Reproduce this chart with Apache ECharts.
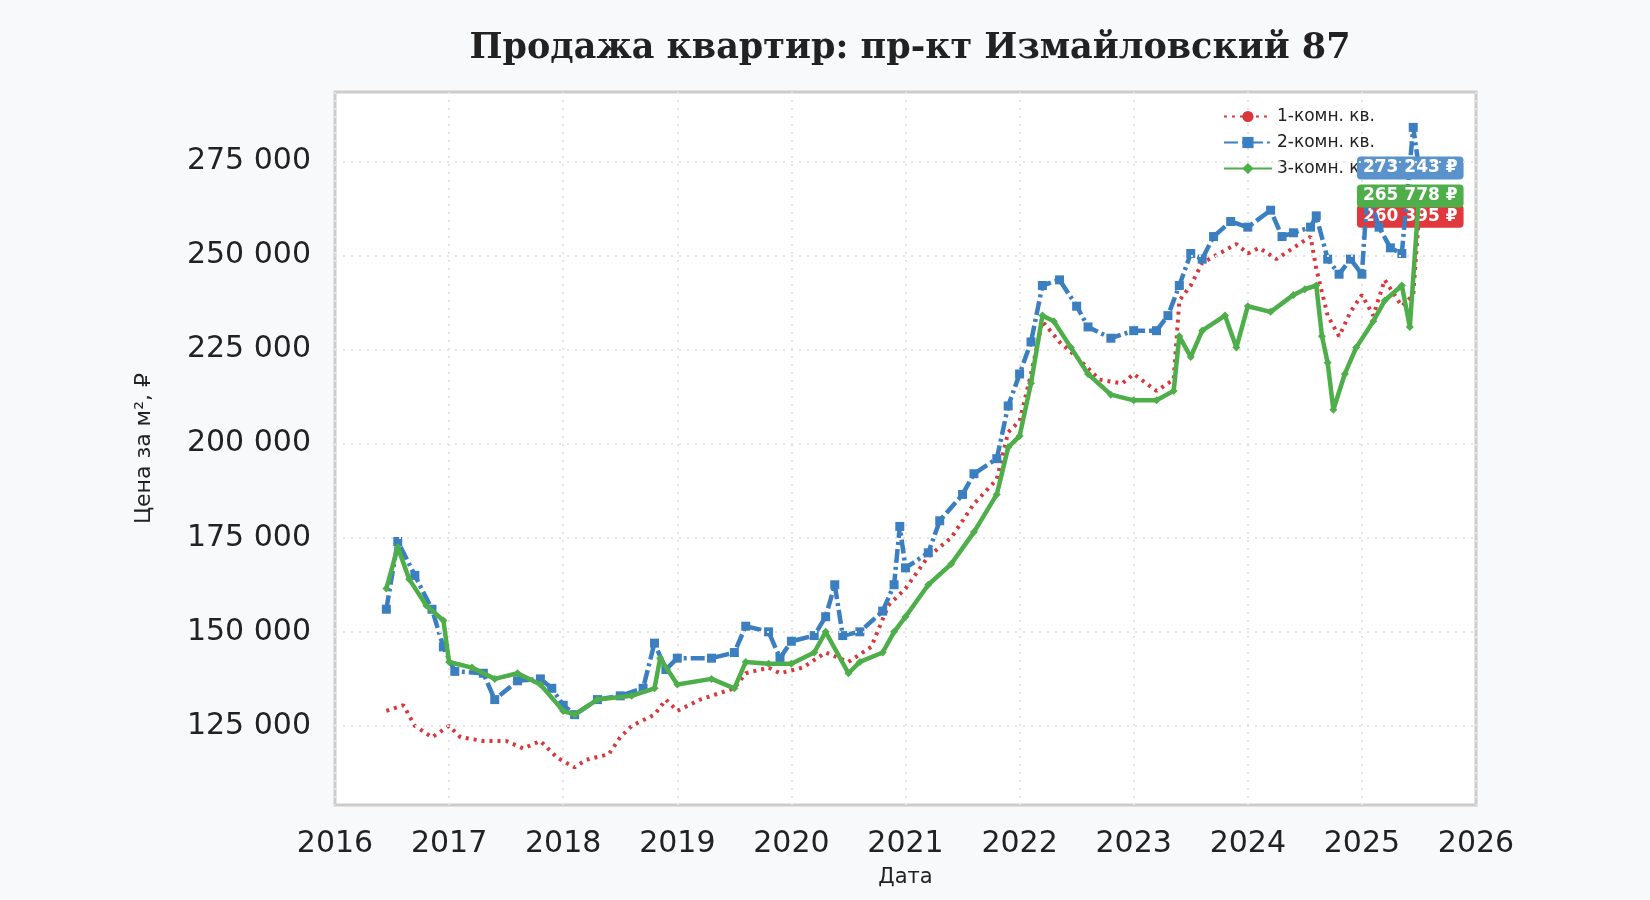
<!DOCTYPE html>
<html>
<head>
<meta charset="utf-8">
<script src="https://cdn.jsdelivr.net/npm/echarts@6/dist/echarts.min.js"></script>
<style>
html, body { margin: 0; padding: 0; background: #f8f9fb; }
#myChart { width: 1650px; height: 900px; }
</style>
</head>
<body>
<div id="myChart"></div>
<script>
// годы (десятичные) и цена за м² по каждому типу квартир
var years1 = [2016.45, 2016.6, 2016.7, 2016.85, 2017.0, 2017.1, 2017.3, 2017.5, 2017.65, 2017.8, 2017.95, 2018.1, 2018.2, 2018.4, 2018.5, 2018.6, 2018.8, 2018.9, 2019.0, 2019.2, 2019.5, 2019.6, 2019.8, 2019.9, 2020.1, 2020.3, 2020.5, 2020.7, 2020.85, 2021.0, 2021.2, 2021.4, 2021.6, 2021.8, 2021.9, 2022.0, 2022.1, 2022.2, 2022.35, 2022.5, 2022.7, 2022.9, 2023.0, 2023.2, 2023.35, 2023.4, 2023.5, 2023.6, 2023.75, 2023.9, 2024.0, 2024.1, 2024.25, 2024.4, 2024.55, 2024.6, 2024.7, 2024.8, 2024.9, 2025.0, 2025.1, 2025.2, 2025.35, 2025.45, 2025.5];
var room1 = [129000, 130500, 125000, 122000, 125000, 122000, 121000, 121000, 119000, 121000, 116500, 114000, 116000, 117500, 122000, 125000, 128000, 132000, 129000, 132000, 135000, 139000, 140500, 139000, 140500, 144500, 142000, 146000, 157000, 161500, 170000, 175000, 184000, 190500, 203000, 206000, 218500, 232500, 227000, 223000, 217000, 216000, 218500, 214000, 217000, 238000, 242000, 248000, 250500, 253000, 250500, 252000, 249000, 252000, 255000, 246500, 234000, 228500, 235000, 239500, 234000, 243500, 236500, 239500, 260395];

var years2 = [2016.45, 2016.55, 2016.7, 2016.85, 2016.95, 2017.05, 2017.3, 2017.4, 2017.6, 2017.8, 2017.9, 2018.0, 2018.1, 2018.3, 2018.5, 2018.7, 2018.8, 2018.9, 2019.0, 2019.3, 2019.5, 2019.6, 2019.8, 2019.9, 2020.0, 2020.2, 2020.3, 2020.38, 2020.45, 2020.6, 2020.8, 2020.9, 2020.95, 2021.0, 2021.2, 2021.3, 2021.5, 2021.6, 2021.8, 2021.9, 2022.0, 2022.1, 2022.2, 2022.35, 2022.5, 2022.6, 2022.8, 2023.0, 2023.2, 2023.3, 2023.4, 2023.5, 2023.6, 2023.7, 2023.85, 2024.0, 2024.2, 2024.3, 2024.4, 2024.55, 2024.6, 2024.7, 2024.8, 2024.9, 2025.0, 2025.05, 2025.15, 2025.25, 2025.35, 2025.45, 2025.5];
var room2 = [156000, 174000, 165000, 156000, 146000, 139500, 139000, 132000, 137000, 137500, 135000, 130500, 128000, 132000, 133000, 135000, 147000, 140000, 143000, 143000, 144500, 151500, 150000, 143000, 147500, 149000, 154000, 162500, 149000, 150000, 155500, 162500, 178000, 167000, 171000, 179500, 186500, 192000, 196000, 210000, 218500, 227000, 242000, 243500, 236500, 231000, 228000, 230000, 230000, 234000, 242000, 250500, 249000, 255000, 259000, 257500, 262000, 255000, 256000, 257500, 260500, 249000, 245000, 249000, 245000, 267500, 257500, 252000, 250500, 284000, 273243];

var years3 = [2016.45, 2016.55, 2016.65, 2016.8, 2016.95, 2017.0, 2017.2, 2017.4, 2017.6, 2017.8, 2018.0, 2018.1, 2018.3, 2018.6, 2018.8, 2018.85, 2019.0, 2019.3, 2019.5, 2019.6, 2019.8, 2020.0, 2020.2, 2020.3, 2020.5, 2020.6, 2020.8, 2020.9, 2021.0, 2021.2, 2021.4, 2021.6, 2021.8, 2021.9, 2022.0, 2022.1, 2022.2, 2022.3, 2022.45, 2022.6, 2022.8, 2023.0, 2023.2, 2023.35, 2023.4, 2023.5, 2023.6, 2023.8, 2023.9, 2024.0, 2024.2, 2024.4, 2024.5, 2024.6, 2024.65, 2024.7, 2024.75, 2024.85, 2024.95, 2025.1, 2025.2, 2025.35, 2025.42, 2025.5];
var room3 = [161500, 172500, 164000, 157000, 153000, 142000, 140500, 137500, 139000, 136000, 129000, 128000, 132000, 133000, 135000, 143000, 136000, 137500, 135000, 142000, 141500, 141500, 144500, 150000, 139000, 142000, 144500, 150000, 154000, 162500, 168000, 176500, 186500, 199000, 202000, 216000, 234000, 232500, 225500, 218500, 213000, 211500, 211500, 214000, 228500, 223000, 230000, 234000, 225500, 236500, 235000, 239500, 241000, 242000, 228500, 221500, 209000, 218500, 225500, 232500, 238000, 242000, 231000, 265778];

var names = ['1-комн. кв.', '2-комн. кв.', '3-комн. кв.'];
var yTicks = [125000, 150000, 175000, 200000, 225000, 250000, 275000];

function pairs(xs, ys) {
    var out = [];
    for (var i = 0; i < xs.length; i++) out.push([xs[i], ys[i]]);
    return out;
}
function fmt(v) {
    return String(Math.round(v)).replace(/\B(?=(\d{3})+(?!\d))/g, ' ');
}
function endLbl(color) {
    return {
        show: true,
        formatter: function(p) { return fmt(p.value[1]) + ' ₽'; },
        color: '#fff',
        fontWeight: 'bold',
        fontSize: 17,
        fontFamily: 'DejaVu Sans',
        backgroundColor: color,
        padding: [3, 6],
        borderRadius: 4,
        offset: [-70, 0]
    };
}

var myChart = echarts.init(document.getElementById('myChart'));
var option = {
    backgroundColor: '#f8f9fb',
    animation: false,
    title: {
        text: 'Продажа квартир: пр-кт Измайловский 87',
        left: 905, top: 26, textAlign: 'center',
        textStyle: { fontFamily: 'DejaVu Serif', fontWeight: 'bold', fontSize: 35, color: '#222' }
    },
    legend: {
        data: names,
        orient: 'vertical',
        right: 270, top: 103,
        itemWidth: 48, itemHeight: 14, itemGap: 9,
        textStyle: { fontFamily: 'DejaVu Sans', fontSize: 17, color: '#222' }
    },
    grid: { left: 335, right: 174, top: 92, bottom: 95, show: true, backgroundColor: '#fff', borderColor: '#cccccc', borderWidth: 3 },
    xAxis: {
        type: 'value', min: 2016, max: 2026, interval: 1,
        name: 'Дата', nameLocation: 'middle', nameGap: 62,
        nameTextStyle: { fontFamily: 'DejaVu Sans', fontSize: 21, color: '#222' },
        axisLine: { show: false }, axisTick: { show: false },
        axisLabel: { fontFamily: 'DejaVu Sans', fontSize: 30, color: '#222', margin: 24, formatter: function(v) { return String(v); } },
        splitLine: { lineStyle: { type: [2, 6], color: '#e4e4e4', width: 2 } }
    },
    yAxis: {
        type: 'value', min: 104000, max: 293400,
        name: 'Цена за м², ₽', nameLocation: 'middle', nameGap: 180,
        nameTextStyle: { fontFamily: 'DejaVu Sans', fontSize: 22, color: '#222' },
        axisLine: { show: false }, axisTick: { show: false },
        axisLabel: {
            fontFamily: 'DejaVu Sans', fontSize: 30, color: '#222', margin: 24,
            customValues: yTicks, formatter: fmt
        },
        splitLine: { show: false }
    },
    series: [{
        name: names[0], type: 'line', data: pairs(years1, room1),
        showSymbol: false, symbol: 'none', color: '#d9373b',
        lineStyle: { type: [3, 5], width: 4, color: '#d9373b' },
        endLabel: endLbl('#e0383c'), z: 3,
        markLine: {
            silent: true, symbol: 'none', label: { show: false },
            lineStyle: { type: [2, 6], color: '#e4e4e4', width: 2 },
            data: yTicks.map(function(v) { return { yAxis: v }; })
        }
    }, {
        name: names[1], type: 'line', data: pairs(years2, room2),
        symbol: 'rect', symbolSize: 9, color: '#3b7fc0',
        lineStyle: { type: [14, 4, 3, 4], width: 4.5, color: '#3b7fc0' },
        endLabel: endLbl('#5a93cb'), z: 4
    }, {
        name: names[2], type: 'line', data: pairs(years3, room3),
        symbol: 'diamond', symbolSize: 8, color: '#4eae4a',
        lineStyle: { width: 4.5, color: '#4eae4a' },
        endLabel: endLbl('#4eae4a'), z: 5
    }]
};
myChart.setOption(option);
</script>
</body>
</html>
